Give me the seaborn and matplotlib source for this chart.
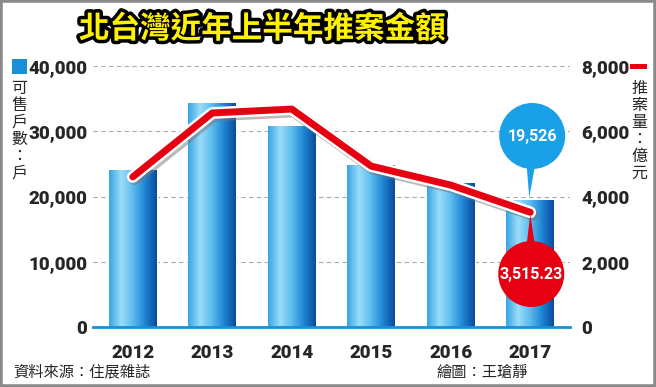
import matplotlib.pyplot as plt
import matplotlib.patheffects as pe
import seaborn as sns
import numpy as np
import pandas as pd
from matplotlib.colors import LinearSegmentedColormap
from matplotlib.patches import Ellipse, Polygon, Rectangle

# Data
years = ["2012", "2013", "2014", "2015", "2016", "2017"]
units = [24000, 34300, 30800, 24800, 22100, 19526]          # 可售戶數 (戶)
amount = [4600, 6560, 6680, 4930, 4350, 3515.23]            # 推案量 (億元)
left_ticks = [0, 10000, 20000, 30000, 40000]
right_ticks = [0, 2000, 4000, 6000, 8000]

CJK = ["Noto Sans CJK TC", "DejaVu Sans"]
NUM = ["Roboto", "DejaVu Sans"]
RED = "#e60012"
BLUE_C = "#1a9be0"

sns.set_style("white")
plt.rcParams["font.family"] = CJK

W, H = 656, 387
fig = plt.figure(figsize=(W / 100, H / 100), dpi=100)
ax = fig.add_axes([93 / W, 1 - 327 / H, (570 - 93) / W, (327 - 66) / H])

df = pd.DataFrame({"year": years, "units": units})
sns.barplot(data=df, x="year", y="units", ax=ax, color=BLUE_C, width=0.6,
            saturation=1, zorder=2)

# horizontal gradient on bars
grad = LinearSegmentedColormap.from_list(
    "g", ["#3aa6e4", "#9bdcf8", "#5cbcee", "#1f86d4", "#0a4b9c"])
gimg = np.linspace(0, 1, 64).reshape(1, -1)
for p in ax.patches:
    x0, y0 = p.get_x(), p.get_y()
    im = ax.imshow(gimg, cmap=grad, aspect="auto", zorder=2.1,
                   extent=[x0, x0 + p.get_width(), y0, y0 + p.get_height()])
    im.set_clip_path(p)
    p.set_facecolor("none")
ax.set_xlim(-0.5, 5.5)
ax.set_ylim(0, 40000)

ax.set_yticks(left_ticks)
ax.set_yticklabels([f"{v:,}" for v in left_ticks], fontfamily=NUM,
                   fontweight="black", fontsize=13.5)
ax.set_xticks(range(len(years)))
ax.set_xticklabels(years, fontfamily=NUM, fontweight="black", fontsize=13.5)
ax.tick_params(axis="y", length=0, pad=4)
ax.tick_params(axis="x", length=6, width=1.5, color="#1a8fd8", pad=6,
               direction="out")
ax.set_xlabel("")
ax.set_ylabel("")
for s in ["top", "right", "left"]:
    ax.spines[s].set_visible(False)
ax.spines["bottom"].set_color("#1a8fd8")
ax.spines["bottom"].set_linewidth(2)
ax.yaxis.grid(True, linestyle=(0, (4, 3)), color="#aaaaaa", linewidth=0.8)
ax.set_axisbelow(True)

# right axis line
ax2 = ax.twinx()
ax2.set_ylim(0, 8000)
ax2.set_yticks(right_ticks)
ax2.set_yticklabels([f"{v:,}" for v in right_ticks], fontfamily=NUM,
                    fontweight="black", fontsize=13.5)
ax2.tick_params(axis="y", length=0, pad=8)
for s in ax2.spines.values():
    s.set_visible(False)
sns.lineplot(x=list(range(len(years))), y=amount, ax=ax2, color=RED,
             linewidth=5, zorder=5, solid_capstyle="round",
             path_effects=[pe.SimpleLineShadow(offset=(1.5, -1.5), shadow_color="#777777", alpha=0.5, linewidth=9),
                           pe.Stroke(linewidth=8.5, foreground="white"),
                           pe.Normal()])
ax2.set_xlim(-0.5, 5.5)


def to_px(axis, x, y):
    return axis.transData.transform((x, y))


def callout(cx, cy, r, tip, color, label):
    # display pixel coordinates
    tri = Polygon([(cx - 8, cy), (cx + 8, cy), tip], closed=True,
                  facecolor=color, edgecolor="none", transform=None,
                  zorder=10)
    fig.add_artist(tri)
    circ = Ellipse((cx, cy), 2 * r, 2 * r, facecolor=color,
                   edgecolor="none", transform=None, zorder=10)
    fig.add_artist(circ)
    fig.text(cx / W, cy / H, label, ha="center", va="center", color="white",
             fontfamily=NUM, fontweight="bold", fontsize=11.5, zorder=11)


fig.canvas.draw()
bx, by = to_px(ax, 5, units[-1])
callout(bx + 2, H - 136, 33, (bx - 1, by + 2), "#1aa0e6", f"{units[-1]:,}")
rx, ry = to_px(ax2, 5, amount[-1])
callout(rx + 1, H - 274, 33, (rx, ry - 2), RED, f"{amount[-1]:,.2f}")

# title
fig.text(262 / W, 1 - 29 / H, "北台灣近年上半年推案金額", ha="center",
         va="center", fontsize=22, fontweight="bold", color="#fff200",
         path_effects=[pe.withStroke(linewidth=5, foreground="black")])

# legends
fig.add_artist(Rectangle((12 / W, 1 - 74 / H), 15 / W, 15 / H,
                         transform=fig.transFigure, facecolor="#1a8fd8",
                         edgecolor="none"))
fig.text(19 / W, 1 - 80 / H, "可\n售\n戶\n數\n：\n戶", ha="center", va="top",
         fontsize=11.5, linespacing=1.0)
fig.add_artist(Rectangle((630 / W, 1 - 69 / H), 17 / W, 5 / H,
                         transform=fig.transFigure, facecolor=RED,
                         edgecolor="none"))
fig.text(639 / W, 1 - 80 / H, "推\n案\n量\n：\n億\n元", ha="center", va="top",
         fontsize=11.5, linespacing=1.0)

# footer
fig.text(13 / W, 1 - 372 / H, "資料來源：住展雜誌", ha="left", va="center",
         fontsize=11)
fig.text(528 / W, 1 - 372 / H, "繪圖：王瑲靜", ha="right", va="center",
         fontsize=11)

# frame
fig.add_artist(Rectangle((0, 0), 1, 1, transform=fig.transFigure,
                         facecolor="none", edgecolor="#8a8a8a", linewidth=4))

fig.savefig("out.png", dpi=100)
